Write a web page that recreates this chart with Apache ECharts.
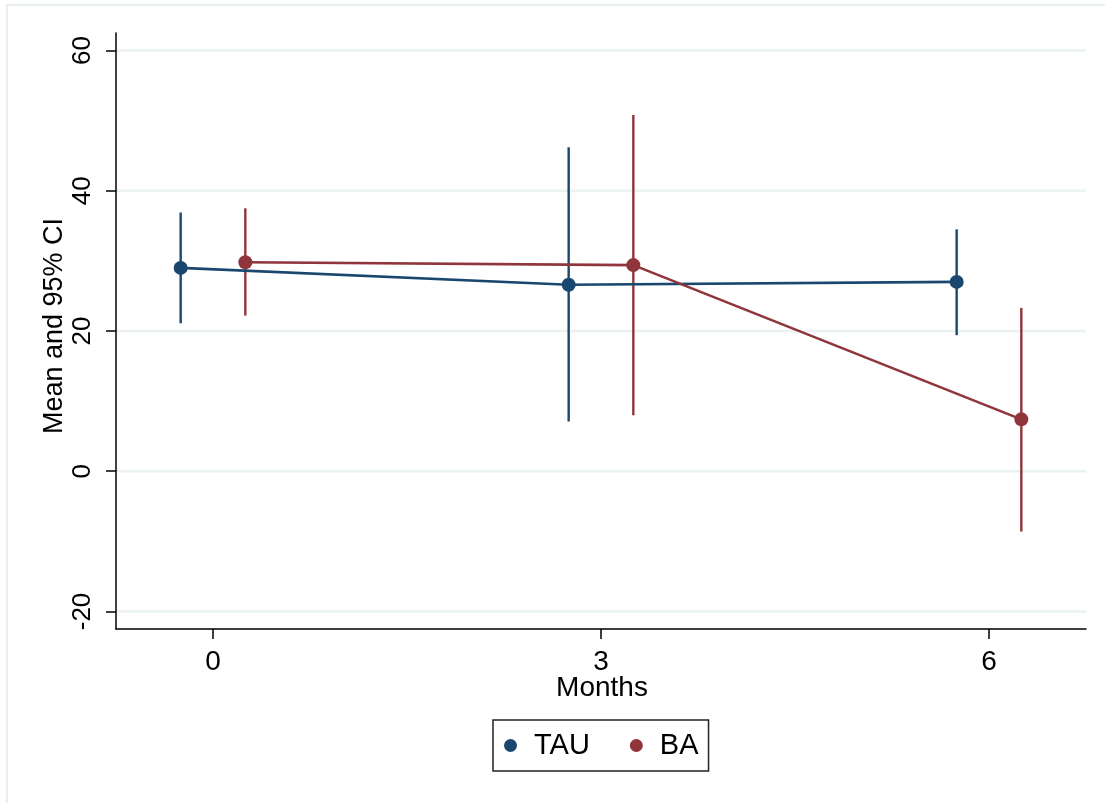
<!DOCTYPE html>
<html>
<head>
<meta charset="utf-8">
<script src="https://cdn.jsdelivr.net/npm/echarts@6/dist/echarts.min.js"></script>
<style>
html,body{margin:0;padding:0;background:#fff;}
#c{width:1105px;height:803px;}
</style>
</head>
<body>
<div id="c"></div>
<script>
// ---- data ----
var monthTicks = [0, 3, 6];
var yTicks = [-20, 0, 20, 40, 60];
var tauX = [-0.25, 2.75, 5.75];
var tauMean = [29.0, 26.6, 27.0];
var tauLo = [21.1, 7.1, 19.4];
var tauHi = [36.9, 46.2, 34.5];
var baX = [0.25, 3.25, 6.25];
var baMean = [29.8, 29.4, 7.4];
var baLo = [22.2, 8.0, -8.6];
var baHi = [37.5, 50.8, 23.3];

var TAU_C = '#1a476f';
var BA_C = '#90353b';
var FONT = 'Liberation Sans, Arial, sans-serif';

function zip2(a, b) { return a.map(function (v, i) { return [v, b[i]]; }); }
function zip3(a, b, c) { return a.map(function (v, i) { return [v, b[i], c[i]]; }); }

function ciSeries(name, data, color) {
  return {
    type: 'custom',
    name: name + ' CI',
    data: data,
    silent: true,
    z: 3,
    encode: { x: 0, y: [1, 2] },
    renderItem: function (params, api) {
      var p1 = api.coord([api.value(0), api.value(1)]);
      var p2 = api.coord([api.value(0), api.value(2)]);
      return {
        type: 'line',
        shape: { x1: p1[0], y1: p1[1], x2: p2[0], y2: p2[1] },
        style: { stroke: color, lineWidth: 2.4 }
      };
    }
  };
}

var chart = echarts.init(document.getElementById('c'), null, { renderer: 'canvas' });
chart.setOption({
  backgroundColor: '#ffffff',
  animation: false,
  graphic: [
    {
      type: 'rect',
      shape: { x: 7, y: 5, width: 1110, height: 810 },
      style: { fill: 'none', stroke: '#e6eef0', lineWidth: 2 },
      silent: true, z: -10
    },
    {
      type: 'text',
      x: 55, y: 326,
      rotation: Math.PI / 2,
      style: {
        text: 'Mean and 95% CI',
        font: '27px ' + FONT,
        fill: '#000',
        textAlign: 'center',
        textVerticalAlign: 'middle'
      }
    },
    {
      type: 'text',
      x: 602, y: 688,
      style: {
        text: 'Months',
        font: '28px ' + FONT,
        fill: '#000',
        textAlign: 'center',
        textVerticalAlign: 'middle'
      }
    }
  ],
  grid: { left: 116, right: 19, top: 33, bottom: 174, containLabel: false },
  legend: {
    data: ['TAU', 'BA'],
    left: 493,
    top: 720,
    orient: 'horizontal',
    icon: 'circle',
    itemWidth: 13,
    itemHeight: 13,
    itemGap: 40,
    padding: [11, 10, 11, 11],
    borderColor: '#222',
    borderWidth: 1.5,
    borderRadius: 0,
    textStyle: { fontFamily: FONT, fontSize: 29, color: '#000', padding: [0, 0, 0, 12] }
  },
  xAxis: {
    type: 'value',
    min: -0.75,
    max: 6.75,
    axisLine: { show: true, onZero: false, lineStyle: { color: '#000', width: 1.5 } },
    axisTick: { show: true, length: 10, customValues: monthTicks, lineStyle: { color: '#000', width: 1.5 } },
    axisLabel: { customValues: monthTicks, fontFamily: FONT, fontSize: 28, color: '#000', margin: 19 },
    splitLine: { show: false }
  },
  yAxis: {
    type: 'value',
    min: -22.5,
    max: 62.5,
    axisLine: { show: true, onZero: false, lineStyle: { color: '#000', width: 1.5 } },
    axisTick: { show: true, length: 10, customValues: yTicks, lineStyle: { color: '#000', width: 1.5 } },
    axisLabel: { customValues: yTicks, rotate: 90, fontFamily: FONT, fontSize: 26, color: '#000', margin: 20 },
    splitLine: { show: false }
  },
  series: [
    {
      type: 'custom',
      name: 'gridlines',
      data: yTicks,
      silent: true,
      z: 0,
      encode: { y: 0 },
      renderItem: function (params, api) {
        var cs = params.coordSys;
        var p = api.coord([0, api.value(0)]);
        return {
          type: 'line',
          shape: { x1: cs.x, y1: p[1], x2: cs.x + cs.width, y2: p[1] },
          style: { stroke: '#eaf2f3', lineWidth: 2.5 }
        };
      }
    },
    ciSeries('TAU', zip3(tauX, tauLo, tauHi), TAU_C),
    {
      type: 'line',
      name: 'TAU',
      data: zip2(tauX, tauMean),
      symbol: 'circle',
      symbolSize: 14,
      itemStyle: { color: TAU_C },
      lineStyle: { color: TAU_C, width: 2.6 },
      z: 4
    },
    ciSeries('BA', zip3(baX, baLo, baHi), BA_C),
    {
      type: 'line',
      name: 'BA',
      data: zip2(baX, baMean),
      symbol: 'circle',
      symbolSize: 14,
      itemStyle: { color: BA_C },
      lineStyle: { color: BA_C, width: 2.6 },
      z: 5
    }
  ]
});
</script>
</body>
</html>
